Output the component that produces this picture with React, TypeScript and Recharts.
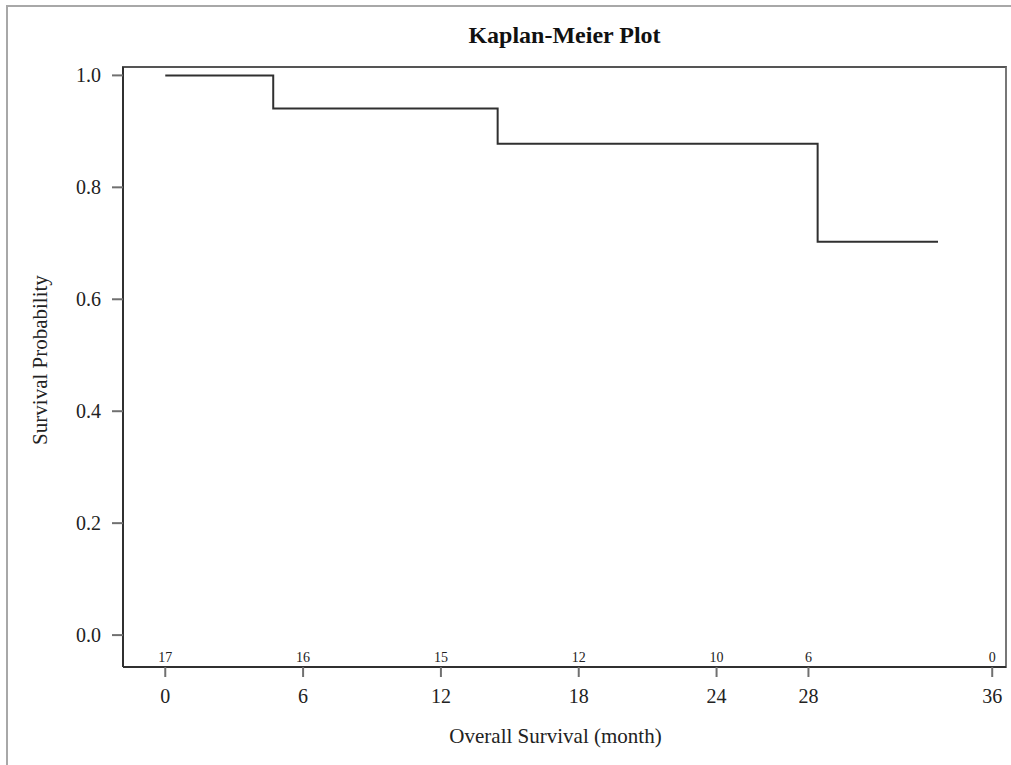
import { ComposedChart, Line, XAxis, YAxis, Label } from "recharts";

// Kaplan-Meier estimate (time in months, survival probability)
const eventTimes = [0, 4.7, 14.47, 28.4, 33.64];
const survival = [1.0, 0.941, 0.878, 0.703, 0.703];

// number at risk shown above the x axis
const riskTimes = [0, 6, 12, 18, 24, 28, 36];
const atRisk = [17, 16, 15, 12, 10, 6, 0];

const yTicks = [0, 0.2, 0.4, 0.6, 0.8, 1.0];

const FONT = '"Liberation Serif", "Times New Roman", serif';
const INK = "#303030";

const kmData = eventTimes.map((t, i) => ({ t, s: survival[i] }));

function MonthTick(props: any) {
  const { x, y, payload } = props;
  const idx = riskTimes.indexOf(payload.value);
  return (
    <g>
      <text x={x} y={y + 26} textAnchor="middle" fontFamily={FONT} fontSize={20} fill="#222">
        {payload.value}
      </text>
      {idx >= 0 && (
        <text x={x} y={y - 15} textAnchor="middle" fontFamily={FONT} fontSize={14} fill="#222">
          {atRisk[idx]}
        </text>
      )}
    </g>
  );
}

export default function App() {
  const xDomain = [-1.84, 36.6];
  const yDomain = [-0.057, 1.015];

  return (
    <div
      style={{
        position: "absolute",
        left: 0,
        top: 0,
        width: 1011,
        height: 765,
        overflow: "hidden",
        background: "#fff",
      }}
    >
      {/* outer frame, only left and top edges show */}
      <div
        style={{
          position: "absolute",
          left: 6,
          top: 5,
          width: 1100,
          height: 900,
          borderLeft: "2px solid #a8a8a8",
          borderTop: "2px solid #a8a8a8",
        }}
      />
      <div
        style={{
          position: "absolute",
          left: 123,
          top: 23,
          width: 883,
          textAlign: "center",
          fontFamily: FONT,
          fontSize: 24,
          lineHeight: "24px",
          fontWeight: "bold",
          color: "#111",
        }}
      >
        Kaplan-Meier Plot
      </div>
      {/* top and right edges of the plot box */}
      <div
        style={{
          position: "absolute",
          left: 122,
          top: 66,
          width: 883,
          height: 600,
          borderTop: "2px solid #555",
          borderRight: "2px solid #777",
        }}
      />
      <div style={{ position: "absolute", left: 0, top: 0 }}>
        <ComposedChart
          width={1011}
          height={765}
          data={kmData}
          margin={{ top: 67, right: 5, left: 0, bottom: 0 }}
        >
          <XAxis
            dataKey="t"
            type="number"
            domain={xDomain}
            ticks={riskTimes}
            interval={0}
            allowDataOverflow
            height={98}
            tickSize={10}
            tickMargin={0}
            tick={<MonthTick />}
            tickLine={{ stroke: "#707070", strokeWidth: 2 }}
            axisLine={{ stroke: INK, strokeWidth: 2 }}
          >
            <Label
              content={({ viewBox }: any) => (
                <text
                  x={viewBox.x + viewBox.width / 2 - 9}
                  y={viewBox.y + 76}
                  textAnchor="middle"
                  fontFamily={FONT}
                  fontSize={21}
                  fill="#222"
                >
                  Overall Survival (month)
                </text>
              )}
            />
          </XAxis>
          <YAxis
            type="number"
            domain={yDomain}
            ticks={yTicks}
            interval={0}
            allowDataOverflow
            width={123}
            tickSize={11}
            tickMargin={11}
            tickFormatter={(v: number) => v.toFixed(1)}
            tick={{ fontFamily: FONT, fontSize: 20, fill: "#222" }}
            tickLine={{ stroke: "#707070", strokeWidth: 2 }}
            axisLine={{ stroke: INK, strokeWidth: 2 }}
          >
            <Label
              content={() => (
                <text
                  x={47}
                  y={360}
                  transform="rotate(-90, 47, 360)"
                  textAnchor="middle"
                  fontFamily={FONT}
                  fontSize={21}
                  fill="#222"
                >
                  Survival Probability
                </text>
              )}
            />
          </YAxis>
          <Line
            type="stepAfter"
            dataKey="s"
            stroke={INK}
            strokeWidth={2}
            dot={false}
            isAnimationActive={false}
          />
        </ComposedChart>
      </div>
    </div>
  );
}
